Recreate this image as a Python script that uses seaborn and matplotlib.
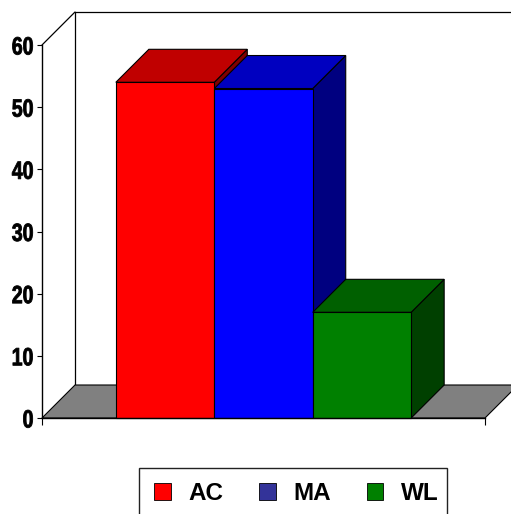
import matplotlib
matplotlib.use("Agg")
import matplotlib.pyplot as plt
import seaborn as sns
import pandas as pd
from matplotlib.patches import Polygon, Patch, Rectangle
from matplotlib.patheffects import AbstractPathEffect
from matplotlib.transforms import Affine2D

# Data
series = ["AC", "MA", "WL"]
values = [54, 53, 17]
group = ["All", "All", "All"]
y_ticks = [0, 10, 20, 30, 40, 50, 60]

# Face colours: front, top (darker), side (darkest)
front_colors = ["#FF0000", "#0000FF", "#008000"]
top_colors = ["#C00000", "#0000C0", "#006000"]
side_colors = ["#800000", "#000080", "#004000"]
legend_colors = ["#FF0000", "#333399", "#008000"]


class Narrow(AbstractPathEffect):
    """Squeeze glyphs horizontally about their right edge (narrow, heavy face)."""

    def __init__(self, sx=0.8, stroke=0.6):
        super().__init__()
        self.sx = sx
        self.stroke = stroke

    def draw_path(self, renderer, gc, tpath, affine, rgbFace=None):
        xr = tpath.get_extents().x1
        squeeze = Affine2D().translate(-xr, 0).scale(self.sx, 1).translate(xr, 0)
        gc0 = renderer.new_gc()
        gc0.copy_properties(gc)
        gc0.set_linewidth(self.stroke)
        if rgbFace is not None:
            gc0.set_foreground(rgbFace)
        renderer.draw_path(gc0, tpath, squeeze + affine, rgbFace)
        gc0.restore()


df = pd.DataFrame({"group": group, "series": series, "value": values})

sns.set_style("white")
plt.rcParams["font.family"] = ["Liberation Sans", "DejaVu Sans"]
for k in ["text.color", "xtick.color", "ytick.color", "axes.labelcolor", "axes.edgecolor"]:
    plt.rcParams[k] = "black"

W, H = 511, 514
fig = plt.figure(figsize=(W / 100, H / 100), dpi=100)
fig.patch.set_facecolor("white")

# Front plane of the plot: x 42..485 px, y 45..418 px (from top)
left, right, top, bottom = 42, 485, 45, 418
ax = fig.add_axes([left / W, (H - bottom) / H, (right - left) / W, (bottom - top) / H])

sns.barplot(data=df, x="group", y="value", hue="series", hue_order=series,
            palette=front_colors, width=2 / 3, dodge=True, saturation=1,
            edgecolor="black", linewidth=0.8, legend=False, ax=ax)
bars = sorted([p for c in ax.containers for p in c], key=lambda p: p.get_x())

ax.set_xlim(-0.5, 0.5)
ax.set_ylim(0, 60)

# 3-D depth offset (33 px right, 33 px up) in data units
dx = 33 / (right - left) * 1.0
dy = 33 * 60 / (bottom - top)

# back wall and side wall edges
line_kw = dict(color="black", lw=0.9, clip_on=False, zorder=0.5)
ax.plot([-0.5 + dx, -0.5 + dx], [dy, 60 + dy], **line_kw)
ax.plot([-0.5 + dx, 0.5 + dx + 0.2], [60 + dy, 60 + dy], **line_kw)
ax.plot([-0.5, -0.5 + dx], [60, 60 + dy], **line_kw)

# floor
ax.add_patch(Polygon([(-0.5, 0), (0.5, 0), (0.5 + dx, dy), (-0.5 + dx, dy)],
                     closed=True, facecolor="#808080", edgecolor="black",
                     lw=0.8, clip_on=False, zorder=1))

# side and top faces of each column
for i, p in enumerate(bars):
    x0, w, h = p.get_x(), p.get_width(), p.get_height()
    z = 3 + 3 * i
    ax.add_patch(Polygon([(x0 + w, 0), (x0 + w, h), (x0 + w + dx, h + dy), (x0 + w + dx, dy)],
                         closed=True, facecolor=side_colors[i], edgecolor="black",
                         lw=0.8, clip_on=False, zorder=z))
    ax.add_patch(Polygon([(x0, h), (x0 + w, h), (x0 + w + dx, h + dy), (x0 + dx, h + dy)],
                         closed=True, facecolor=top_colors[i], edgecolor="black",
                         lw=0.8, clip_on=False, zorder=z + 1))
    p.set_zorder(z + 2)
    p.set_clip_on(False)

for s in ["top", "right"]:
    ax.spines[s].set_visible(False)
for s in ["left", "bottom"]:
    ax.spines[s].set_color("black")
    ax.spines[s].set_linewidth(1.0)
    ax.spines[s].set_zorder(20)

ax.set_xlabel("")
ax.set_ylabel("")
ax.set_xticks([-0.5, 0.5])
ax.set_xticklabels(["", ""])
ax.set_yticks(y_ticks)
ax.set_yticklabels([str(t) for t in y_ticks], fontsize=18, fontweight="bold")
for lab in ax.get_yticklabels():
    lab.set_path_effects([Narrow(0.78, 0.6)])
ax.tick_params(axis="y", direction="out", length=3.4, width=0.8, pad=2.6, color="black", left=True)
ax.tick_params(axis="x", direction="out", length=5, width=0.8, color="black", bottom=True)

# legend
handles = [Patch(facecolor=c, edgecolor="black", lw=0.6) for c in legend_colors]
leg = fig.legend(handles, series, loc="upper left",
                 bbox_to_anchor=(139 / W, 1 - 467 / H), ncol=3, frameon=False,
                 borderaxespad=0, borderpad=0.62,
                 handlelength=0.68, handleheight=0.68, handletextpad=0.72,
                 columnspacing=1.48, prop=dict(size=17.5, weight="bold"))
fig.add_artist(Rectangle((139 / W, -0.02), (447 - 139) / W, 1 - 468 / H + 0.02,
                         transform=fig.transFigure, facecolor="none",
                         edgecolor="#222222", lw=1.0, clip_on=False))

fig.savefig("out.png", dpi=100, facecolor="white")
